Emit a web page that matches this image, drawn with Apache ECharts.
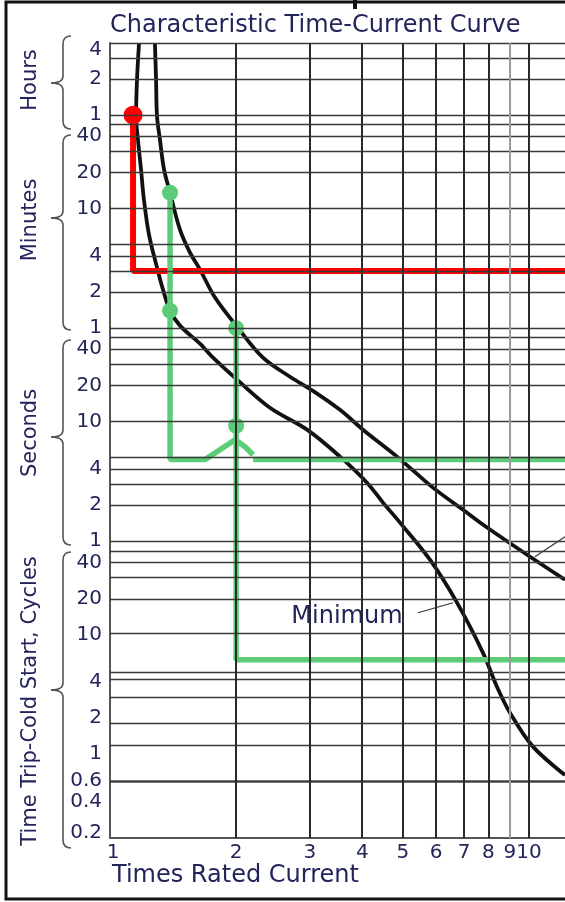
<!DOCTYPE html>
<html><head><meta charset="utf-8">
<script src="https://cdn.jsdelivr.net/npm/echarts@6/dist/echarts.min.js"></script>
<style>html,body{margin:0;padding:0;background:#fff}#c{width:565px;height:902px}</style>
</head><body><div id="c"></div>
<script>
// ---------- data (x: times rated current, y: seconds) ----------
const xMin = 1, xMax = 12.19;
const yMinCycles = 0.2, yMaxHours = 4;
const xGridValues = [2, 3, 4, 5, 6, 7, 8, 9, 10];
const xTickValues = [1, 2, 3, 4, 5, 6, 7, 8, 9, 10];
const xTickLabels = ['1', '2', '3', '4', '5', '6', '7', '8', '9', '10'];
const hourGrid = [4, 3, 2, 1];
const minuteGrid = [50, 40, 30, 20, 10, 5, 4, 3, 2, 1];
const secondGrid = [50, 40, 30, 20, 10, 5, 4, 3, 2, 1];
const cycleGrid = [50, 40, 30, 20, 10, 5, 4, 3, 2, 1, 0.8, 0.6, 0.4, 0.3, 0.2];
const hourLabels = [4, 2, 1];
const minuteLabels = [40, 20, 10, 4, 2, 1];
const secondLabels = [40, 20, 10, 4, 2, 1];
const cycleLabels = [40, 20, 10, 4, 2, 1, 0.6, 0.4, 0.2];

const minimumCurve = [
  [1.173, 14400], [1.160, 7117], [1.154, 3494], [1.166, 2246], [1.186, 1262], [1.205, 709],
  [1.239, 362], [1.295, 192], [1.338, 126], [1.391, 84], [1.469, 63], [1.640, 44.5],
  [1.762, 34.0], [2.010, 22.3], [2.409, 13.0], [2.953, 8.53], [3.539, 5.08], [4.106, 3.08],
  [4.483, 2.10], [4.922, 1.43], [5.803, 0.701], [6.733, 0.307], [7.767, 0.117], [8.386, 0.061],
  [9.009, 0.037], [10.22, 0.0193], [12.19, 0.0112]
];
const maximumCurve = [
  [1.280, 14400], [1.288, 7117], [1.295, 3494], [1.316, 2246], [1.346, 1262], [1.391, 811],
  [1.469, 398], [1.552, 256], [1.640, 185], [1.781, 108], [2.010, 61.7], [2.318, 34.0],
  [2.689, 23.6], [3.051, 18.0], [3.539, 12.5], [4.016, 8.53], [4.842, 5.08], [5.900, 2.80],
  [6.958, 1.83], [7.896, 1.32], [10.06, 0.742], [12.19, 0.477]
];
const redPath = [[1.135, 3600], [1.135, 180], [12.19, 180]];
const redDots = [[1.135, 3600]];
const greenPathA = [[1.391, 811], [1.391, 4.8], [1.686, 4.8], [1.988, 7.03], [2.100, 6.15], [2.195, 5.27]];
const greenPathA2 = [[2.195, 4.8], [12.19, 4.8]];
const greenPathB = [[2.0, 60], [2.0, 0.1026], [12.19, 0.1026]];
const greenDots = [[1.391, 811], [1.391, 84], [2.0, 60], [2.0, 9.2]];
const minimumLeader = [[5.433, 0.253], [6.587, 0.307]];
const maximumLeader = [[10.33, 0.742], [12.19, 1.09]];
const minimumLabelPos = [3.678, 0.234];

// ---------- derived ----------
const HOUR = 3600, MIN = 60, CYC = 1 / 60;
const yMin = yMinCycles * CYC, yMax = yMaxHours * HOUR;
const yGridSec = [].concat(
  hourGrid.map(v => v * HOUR), minuteGrid.map(v => v * MIN),
  secondGrid.map(v => v), cycleGrid.map(v => v * CYC));
const yLabelItems = [].concat(
  hourLabels.map(v => ({ v: v * HOUR, t: String(v) })),
  minuteLabels.map(v => ({ v: v * MIN, t: String(v) })),
  secondLabels.map(v => ({ v: v, t: String(v) })),
  cycleLabels.map(v => ({ v: v * CYC, t: String(v) })));

const TXT = '#23255a';
const FONT = 'DejaVu Sans';

const chart = echarts.init(document.getElementById('c'), null, { renderer: 'canvas' });

const lbl = (extra) => Object.assign({ show: true, color: TXT, fontFamily: FONT, fontSize: 20, opacity: 1 }, extra);

const option = {
  animation: false,
  backgroundColor: '#fff',
  grid: { left: 110, right: 0, top: 43, bottom: 64, containLabel: false },
  xAxis: {
    type: 'log', logBase: 10, min: xMin, max: xMax,
    axisLine: { show: true, onZero: false, lineStyle: { color: '#555', width: 2 } },
    axisTick: { show: false }, axisLabel: { show: false }, splitLine: { show: false }
  },
  yAxis: {
    type: 'log', logBase: 10, min: yMin, max: yMax,
    axisLine: { show: true, onZero: false, lineStyle: { color: '#555', width: 2 } },
    axisTick: { show: false }, axisLabel: { show: false }, splitLine: { show: false }
  },
  series: [
    {
      type: 'line', data: [], z: 1, silent: true,
      markLine: {
        silent: true, symbol: ['none', 'none'], animation: false,
        label: { show: false },
        data: yGridSec.map(v => ({ yAxis: v, lineStyle: { color: '#3a3a3a', width: 1.4, type: 'solid' } }))
          .concat(xGridValues.map(v => ({ xAxis: v, lineStyle: { color: v === 9 ? '#9a9a9a' : '#2a2a2a', width: 2, type: 'solid' } })))
      }
    },
    {
      name: 'Minimum', type: 'line', data: minimumCurve, smooth: 0.35, symbol: 'none', z: 2,
      lineStyle: { color: '#111', width: 3.8 }
    },
    {
      name: 'Maximum', type: 'line', data: maximumCurve, smooth: 0.35, symbol: 'none', z: 2,
      lineStyle: { color: '#111', width: 3.8 }
    },
    { type: 'line', data: minimumLeader, symbol: 'none', z: 2, lineStyle: { color: '#333', width: 1.1 } },
    { type: 'line', data: maximumLeader, symbol: 'none', z: 2, lineStyle: { color: '#333', width: 1.1 } },
    { type: 'line', data: redPath, symbol: 'none', z: 3, lineStyle: { color: '#ff0000', width: 6 } },
    { type: 'line', data: greenPathA, symbol: 'none', z: 3, lineStyle: { color: '#5ccc78', width: 5.5 } },
    { type: 'line', data: greenPathA2, symbol: 'none', z: 3, lineStyle: { color: '#5ccc78', width: 5.5 } },
    { type: 'line', data: greenPathB, symbol: 'none', z: 3, lineStyle: { color: '#5ccc78', width: 5.5 } },
    { type: 'scatter', data: redDots, symbol: 'circle', symbolSize: 19, z: 4, clip: false, itemStyle: { color: '#ff0000', opacity: 1 } },
    { type: 'scatter', data: greenDots, symbol: 'circle', symbolSize: 16, z: 4, clip: false, itemStyle: { color: '#5ccc78', opacity: 1 } },
    {
      type: 'scatter', symbolSize: 0, z: 5, clip: false, silent: true, itemStyle: { opacity: 1 },
      data: yLabelItems.map((it, i) => ({
        value: [xMin, it.v],
        label: lbl({
          position: 'left', distance: 8, formatter: it.t,
          offset: i === 0 ? [0, 7] : (it.v === yMin ? [0, -5] : [0, 0])
        })
      }))
    },
    {
      type: 'scatter', symbolSize: 0, z: 5, clip: false, silent: true, itemStyle: { opacity: 1 },
      data: xTickValues.map((v, i) => ({
        value: [v, yMin],
        label: lbl({ position: 'bottom', distance: 5, formatter: xTickLabels[i], offset: i === 0 ? [3, 0] : [0, 0] })
      }))
    },
    {
      type: 'scatter', symbolSize: 0, z: 5, clip: false, silent: true, itemStyle: { opacity: 1 },
      data: [{ value: minimumLabelPos, label: lbl({ position: 'inside', formatter: 'Minimum', fontSize: 24 }) }]
    }
  ]
};

chart.setOption(option);

// ---------- decorations: frame, titles, side labels, braces ----------
const BR = { stroke: '#555', lineWidth: 1.6, fill: 'none' };
function brace(yTop, yTip, yBot) {
  const xr = 71, xv = 63, xt = 51;
  return {
    type: 'group', silent: true,
    children: [
      { type: 'bezierCurve', shape: { x1: xr, y1: yTop, cpx1: xv, cpy1: yTop, x2: xv, y2: yTop + 8 }, style: BR },
      { type: 'line', shape: { x1: xv, y1: yTop + 8, x2: xv, y2: yTip - 7 }, style: BR },
      { type: 'bezierCurve', shape: { x1: xv, y1: yTip - 7, cpx1: xv, cpy1: yTip, x2: xt, y2: yTip }, style: BR },
      { type: 'bezierCurve', shape: { x1: xt, y1: yTip, cpx1: xv, cpy1: yTip, x2: xv, y2: yTip + 7 }, style: BR },
      { type: 'line', shape: { x1: xv, y1: yTip + 7, x2: xv, y2: yBot - 8 }, style: BR },
      { type: 'bezierCurve', shape: { x1: xv, y1: yBot - 8, cpx1: xv, cpy1: yBot, x2: xr, y2: yBot }, style: BR }
    ]
  };
}
const braceSpans = [[36, 83, 129], [135, 218, 330], [340, 437, 545], [552, 690, 848]];
const sideTitles = [['Hours', 80], ['Minutes', 220], ['Seconds', 433], ['Time Trip-Cold Start, Cycles', 701]];

const g = [
  { type: 'rect', shape: { x: 6, y: 2, width: 620, height: 897 }, style: { fill: 'none', stroke: '#111', lineWidth: 3 }, silent: true },
  { type: 'rect', shape: { x: 353, y: 0, width: 4, height: 9 }, style: { fill: '#111' }, silent: true },
  { type: 'text', x: 110, y: 26, style: { text: 'Characteristic Time-Current Curve', fill: TXT, fontFamily: FONT, fontSize: 24, align: 'left', verticalAlign: 'middle' } },
  { type: 'text', x: 112, y: 876, style: { text: 'Times Rated Current', fill: TXT, fontFamily: FONT, fontSize: 24, align: 'left', verticalAlign: 'middle' } }
];
sideTitles.forEach(([t, yc]) => g.push({
  type: 'text', x: 31, y: yc, rotation: Math.PI / 2,
  style: { text: t, fill: TXT, fontFamily: FONT, fontSize: 21, align: 'center', verticalAlign: 'middle' }
}));
braceSpans.forEach(([a, b, c]) => g.push(brace(a, b, c)));
chart.setOption({ graphic: g });
</script>
</body></html>
